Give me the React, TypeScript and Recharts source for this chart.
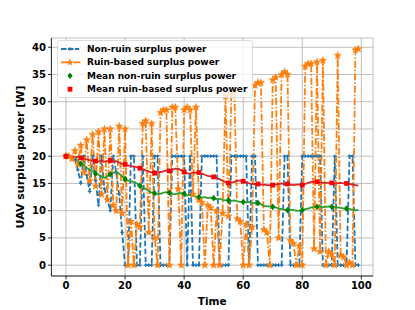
import React from "react";
import {
  ComposedChart,
  Line,
  XAxis,
  YAxis,
  CartesianGrid,
  Legend,
  Label,
} from "recharts";

const times: number[] = Array.from({ length: 100 }, (_, i) => i);

const nonRuin: number[] = [
  20, 20, 19.7, 19.5, 17.5, 15, 20, 16.5, 13.5, 20,
  15.5, 11, 20, 14, 12, 10, 20, 17, 13, 6,
  0, 0, 20, 20, 0, 0, 20, 0, 0, 0,
  20, 20, 0, 0, 0, 0, 20, 20, 20, 20,
  20, 0, 20, 0, 0, 0, 20, 20, 20, 20,
  20, 20, 0, 0, 0, 0, 20, 20, 20, 20,
  20, 20, 0, 20, 20, 0, 0, 0, 0, 0,
  0, 0, 0, 0, 20, 20, 0, 0, 0, 0,
  20, 20, 20, 20, 20, 20, 20, 0, 0, 0,
  0, 20, 0, 0, 0, 0, 20, 20, 0, 0,
];

const ruinBased: number[] = [
  20, 20, 19.5, 21, 18.5, 22, 17, 23, 15.5, 24,
  14.5, 24.5, 13, 25, 12, 25, 11, 10, 25.5, 9.5,
  25, 0, 8, 0, 7.5, 7, 26, 26.5, 6, 26,
  5, 0, 28, 28.5, 28.5, 0, 29, 29, 14, 0,
  28.5, 29, 28.5, 13, 29, 12, 11.5, 0, 11, 10.5,
  0, 10, 0, 9.5, 31, 9, 31.5, 32, 8.5, 8,
  0, 7.5, 0, 7, 33, 33.5, 33.5, 6.5, 6, 0,
  34, 34.5, 5, 35, 35.5, 35, 4.5, 4, 0, 3.5,
  0, 36.5, 37, 37, 3, 37.3, 2.5, 37.6, 0, 2.5,
  2, 0, 38.5, 1.8, 1.5, 0, 0.5, 0, 39.5, 39.7,
];

const meanNonRuin: number[] = [
  20, 19.9, 19.8, 19.6, 19.2, 18.6, 18.4, 17.9, 17.5, 17.3,
  16.8, 16.6, 16.3, 16.0, 16.3, 16.7, 17.0, 17.1, 16.8, 16.3,
  15.8, 15.5, 15.4, 15.3, 15.0, 14.6, 14.3, 14.0, 13.6, 13.3,
  13.2, 13.0, 13.1, 13.3, 13.4, 13.3, 13.1, 13.0, 13.2, 13.2,
  13.1, 12.8, 12.9, 12.7, 12.6, 12.5, 12.4, 12.5, 12.3, 12.4,
  12.3, 12.1, 12.2, 12.0, 11.9, 11.9, 11.8, 11.9, 11.7, 11.6,
  11.6, 11.5, 11.6, 11.5, 11.4, 11.4, 11.2, 10.9, 10.8, 10.8,
  10.7, 10.6, 10.4, 10.3, 10.2, 10.1, 10.2, 10.1, 10.0, 10.0,
  10.1, 10.3, 10.4, 10.6, 10.6, 10.7, 10.8, 10.6, 10.7, 10.8,
  10.7, 10.6, 10.6, 10.5, 10.4, 10.4, 10.3, 10.2, 10.1, 10.1,
];

const meanRuinBased: number[] = [
  20, 19.9, 20.0, 19.8, 19.9, 19.7, 19.5, 19.4, 19.3, 19.2,
  19.1, 19.0, 19.2, 19.0, 19.1, 19.2, 19.0, 19.1, 18.8, 18.6,
  18.5, 18.3, 18.2, 18.1, 18.0, 17.8, 17.6, 17.4, 17.2, 17.0,
  16.9, 17.0, 17.1, 17.2, 17.4, 17.3, 17.5, 17.7, 17.7, 17.4,
  17.1, 16.9, 16.8, 16.9, 17.0, 17.0, 16.8, 16.6, 16.4, 16.3,
  16.2, 16.0, 15.8, 15.5, 15.3, 15.1, 15.2, 15.3, 15.5, 15.5,
  15.4, 15.2, 15.0, 14.9, 14.9, 14.9, 14.8, 14.8, 14.7, 14.7,
  14.7, 14.8, 14.9, 15.0, 14.9, 14.9, 14.8, 14.7, 14.8, 14.8,
  14.7, 14.9, 15.1, 15.3, 15.3, 15.3, 15.2, 15.1, 15.1, 15.1,
  15.1, 15.0, 15.0, 15.1, 15.0, 15.0, 14.9, 14.8, 14.7, 14.6,
];

const xTicks: number[] = [0, 20, 40, 60, 80, 100];
const yTicks: number[] = [0, 5, 10, 15, 20, 25, 30, 35, 40];

const seriesNames = {
  nr: "Non-ruin surplus power",
  rb: "Ruin-based surplus power",
  mnr: "Mean non-ruin surplus power",
  mrb: "Mean ruin-based surplus power",
};

const data = times.map((t, i) => ({
  t,
  nr: nonRuin[i],
  rb: ruinBased[i],
  mnr: meanNonRuin[i],
  mrb: meanRuinBased[i],
}));

const BLUE = "#1f77b4";
const ORANGE = "#ff7f0e";
const GREEN = "#2ca02c";
const RED = "#d62728";
const FONT = "'DejaVu Sans', sans-serif";

const starPath = (cx: number, cy: number, ro: number, ri: number) => {
  let d = "";
  for (let k = 0; k < 10; k++) {
    const r = k % 2 === 0 ? ro : ri;
    const a = -Math.PI / 2 + (k * Math.PI) / 5;
    d += (k === 0 ? "M" : "L") + (cx + r * Math.cos(a)).toFixed(2) + "," + (cy + r * Math.sin(a)).toFixed(2);
  }
  return d + "Z";
};

const PlusDot = (p: any) => {
  const { cx, cy, index } = p;
  if (cx == null || cy == null) return <g key={"pd" + index} />;
  return (
    <path
      key={"pd" + index}
      d={`M${cx - 1.8},${cy}L${cx + 1.8},${cy}M${cx},${cy - 1.8}L${cx},${cy + 1.8}`}
      stroke={BLUE}
      strokeWidth={1.2}
      fill="none"
    />
  );
};

const StarDot = (p: any) => {
  const { cx, cy, index } = p;
  if (cx == null || cy == null) return <g key={"sd" + index} />;
  return <path key={"sd" + index} d={starPath(cx, cy, 3.8, 1.6)} fill={ORANGE} stroke={ORANGE} strokeWidth={0.5} />;
};

const DiamondDot = (p: any) => {
  const { cx, cy, index } = p;
  if (cx == null || cy == null || index % 5 !== 0) return <g key={"dd" + index} />;
  return <path key={"dd" + index} d={`M${cx},${cy - 3.3}L${cx + 2.6},${cy}L${cx},${cy + 3.3}L${cx - 2.6},${cy}Z`} fill="green" />;
};

const SquareDot = (p: any) => {
  const { cx, cy, index } = p;
  if (cx == null || cy == null || index % 5 !== 0) return <g key={"qd" + index} />;
  return <rect key={"qd" + index} x={cx - 2.4} y={cy - 2.4} width={4.8} height={4.8} fill="red" />;
};

const LegendBox = () => {
  const rows = [
    { name: seriesNames.nr, kind: "nr" },
    { name: seriesNames.rb, kind: "rb" },
    { name: seriesNames.mnr, kind: "mnr" },
    { name: seriesNames.mrb, kind: "mrb" },
  ];
  return (
    <svg width={196} height={58} style={{ display: "block" }}>
      <rect x={0.5} y={0.5} width={195} height={57} rx={2.5} fill="rgba(255,255,255,0.8)" stroke="#dcdcdc" strokeWidth={1} />
      {rows.map((r, i) => {
        const y = 9 + i * 13.4;
        let handle: React.ReactNode = null;
        if (r.kind === "nr") {
          handle = (
            <g>
              <line x1={4} x2={22} y1={y} y2={y} stroke={BLUE} strokeWidth={1.8} strokeDasharray="5.5 1.5" />
              <path d={`M${11.2},${y}L${14.8},${y}M13,${y - 1.8}L13,${y + 1.8}`} stroke={BLUE} strokeWidth={1.2} />
            </g>
          );
        } else if (r.kind === "rb") {
          handle = (
            <g>
              <line x1={4} x2={24} y1={y} y2={y} stroke={ORANGE} strokeWidth={1.8} strokeDasharray="7 2 1.5 2" />
              <path d={starPath(13, y, 3.8, 1.6)} fill={ORANGE} />
            </g>
          );
        } else if (r.kind === "mnr") {
          handle = <path d={`M13,${y - 3.3}L15.6,${y}L13,${y + 3.3}L10.4,${y}Z`} fill="green" />;
        } else {
          handle = <rect x={10.6} y={y - 2.4} width={4.8} height={4.8} fill="red" />;
        }
        return (
          <g key={r.kind}>
            {handle}
            <text x={30} y={y} dominantBaseline="central" fontFamily={FONT} fontWeight="bold" fontSize={9} fill="#000">
              {r.name}
            </text>
          </g>
        );
      })}
    </svg>
  );
};

const YLabel = (props: any) => {
  const vb = props.viewBox || { x: 0, y: 0, width: 0, height: 0 };
  const x = 20;
  const y = vb.y + vb.height / 2;
  return (
    <text x={x} y={y} transform={`rotate(-90 ${x} ${y})`} textAnchor="middle" dominantBaseline="central" fontFamily={FONT} fontWeight="bold" fontSize={11} fill="#000">
      UAV surplus power [W]
    </text>
  );
};

const XLabel = (props: any) => {
  const vb = props.viewBox || { x: 0, y: 0, width: 0, height: 0 };
  const x = vb.x + vb.width / 2;
  return (
    <text x={x} y={301} textAnchor="middle" dominantBaseline="central" fontFamily={FONT} fontWeight="bold" fontSize={10.5} fill="#000">
      Time
    </text>
  );
};

const tickStyle = { fontFamily: FONT, fontWeight: "bold" as const, fontSize: 10, fill: "#000" };

export default function App() {
  return (
    <div style={{ position: "absolute", left: 0, top: 0, width: 415, height: 310, background: "#fff" }}>
      <ComposedChart width={415} height={310} data={data} margin={{ top: 38, right: 42, bottom: 4, left: 0 }}>
        <CartesianGrid stroke="#b0b0b0" strokeWidth={0.8} xAxisId="b" yAxisId="l" />
        <XAxis
          xAxisId="b"
          dataKey="t"
          type="number"
          domain={[-4.95, 103.95]}
          ticks={xTicks}
          allowDataOverflow
          height={30}
          tick={tickStyle}
          tickSize={3.5}
          tickMargin={2}
          stroke="#000"
          axisLine={{ stroke: "#000", strokeWidth: 0.8 }}
          tickLine={{ stroke: "#000", strokeWidth: 0.8 }}
        >
          <Label content={<XLabel />} />
        </XAxis>
        <XAxis xAxisId="top" orientation="top" dataKey="t" type="number" domain={[-4.95, 103.95]} height={0} tick={false} tickLine={false} axisLine={{ stroke: "#000", strokeWidth: 0.8 }} />
        <YAxis
          yAxisId="l"
          type="number"
          domain={[-1.99, 41.7]}
          ticks={yTicks}
          allowDataOverflow
          width={51.4}
          tick={tickStyle}
          tickSize={3.5}
          tickMargin={2}
          stroke="#000"
          axisLine={{ stroke: "#000", strokeWidth: 0.8 }}
          tickLine={{ stroke: "#000", strokeWidth: 0.8 }}
        >
          <Label content={<YLabel />} />
        </YAxis>
        <YAxis yAxisId="r" orientation="right" type="number" domain={[-1.99, 41.7]} width={0} tick={false} tickLine={false} axisLine={{ stroke: "#000", strokeWidth: 0.8 }} />
        <Legend
          layout="vertical"
          align="center"
          verticalAlign="middle"
          wrapperStyle={{ position: "absolute", left: 57, top: 40, width: 196, height: 58 }}
          content={() => <LegendBox />}
        />
        <Line xAxisId="b" yAxisId="l" dataKey="nr" name={seriesNames.nr} stroke={BLUE} strokeWidth={1.8} strokeDasharray="5.5 2.5" dot={PlusDot} activeDot={false} isAnimationActive={false} />
        <Line xAxisId="b" yAxisId="l" dataKey="rb" name={seriesNames.rb} stroke={ORANGE} strokeWidth={1.8} strokeDasharray="7 2 1.5 2" dot={StarDot} activeDot={false} isAnimationActive={false} />
        <Line xAxisId="b" yAxisId="l" dataKey="mnr" name={seriesNames.mnr} stroke={GREEN} strokeWidth={1.8} dot={DiamondDot} activeDot={false} isAnimationActive={false} />
        <Line xAxisId="b" yAxisId="l" dataKey="mrb" name={seriesNames.mrb} stroke={RED} strokeWidth={1.8} dot={SquareDot} activeDot={false} isAnimationActive={false} />
      </ComposedChart>
    </div>
  );
}
